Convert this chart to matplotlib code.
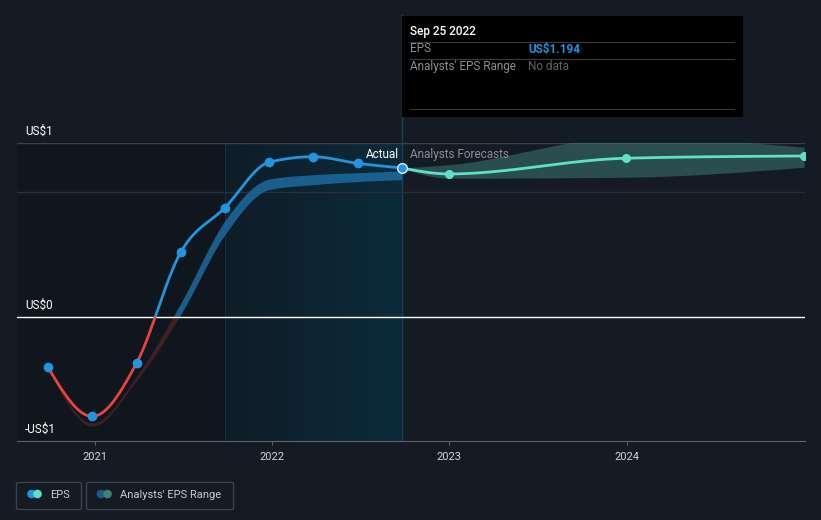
import numpy as np
import matplotlib
matplotlib.use('Agg')
import matplotlib.pyplot as plt
import matplotlib.dates as mdates
from matplotlib.patches import Rectangle, FancyBboxPatch, Circle
from datetime import datetime

plt.rcParams['font.family'] = ['Roboto', 'DejaVu Sans']

# --- data ---
actual_dates = ['2020-09-27', '2020-12-27', '2021-03-28', '2021-06-27', '2021-09-26',
                '2021-12-26', '2022-03-27', '2022-06-26', '2022-09-25']
eps_actual = [-0.405, -0.797, -0.371, 0.518, 0.876, 1.24, 1.284, 1.231, 1.194]

# past analysts' range (shadow band)
past_low = [-0.41, -0.875, -0.51, 0.02, 0.66, 1.02, 1.06, 1.085, 1.10]
past_high = [-0.40, -0.848, -0.475, 0.11, 0.77, 1.105, 1.14, 1.156, 1.17]

fc_dates = ['2022-09-25', '2022-12-31', '2023-12-31', '2024-12-31']
eps_fc = [1.194, 1.146, 1.272, 1.29]
fc_low = [1.194, 1.112, 1.12, 1.20]
fc_high = [1.194, 1.22, 1.44, 1.36]

year_ticks = ['2021-01-01', '2022-01-01', '2023-01-01', '2024-01-01']
year_labels = ['2021', '2022', '2023', '2024']
y_ticks = [-0.994, 0.0, 1.394]
y_labels = ['-US$1', 'US$0', 'US$1']

BG = '#151b24'
BLUE = '#2394df'
RED = '#e8433f'
TEAL = '#5fe0c8'


def to_num(ds):
    return mdates.date2num([datetime.strptime(d, '%Y-%m-%d') for d in ds])


def monotone(x, y, n=300):
    # monotone cubic (like d3 curveMonotoneX) for drawing smooth lines
    x = np.asarray(x, float)
    y = np.asarray(y, float)
    h = np.diff(x)
    s = np.diff(y) / h
    m = np.zeros(len(x))
    for k in range(1, len(x) - 1):
        p = (s[k - 1] * h[k] + s[k] * h[k - 1]) / (h[k - 1] + h[k])
        m[k] = (np.sign(s[k - 1]) + np.sign(s[k])) * min(abs(s[k - 1]), abs(s[k]), 0.5 * abs(p))
    if len(x) > 2:
        m[0] = (3 * s[0] - m[1]) / 2
        m[-1] = (3 * s[-1] - m[-2]) / 2
    else:
        m[0] = m[-1] = s[0]
    xs = np.linspace(x[0], x[-1], n)
    idx = np.clip(np.searchsorted(x, xs) - 1, 0, len(x) - 2)
    t = (xs - x[idx]) / h[idx]
    h00 = 2 * t**3 - 3 * t**2 + 1
    h10 = t**3 - 2 * t**2 + t
    h01 = -2 * t**3 + 3 * t**2
    h11 = t**3 - t**2
    ys = h00 * y[idx] + h10 * h[idx] * m[idx] + h01 * y[idx + 1] + h11 * h[idx] * m[idx + 1]
    return xs, ys


xa = to_num(actual_dates)
xf = to_num(fc_dates)

fig = plt.figure(figsize=(8.21, 5.2), dpi=100, facecolor=BG)

# overlay for decorations in pixel coordinates
ov = fig.add_axes([0, 0, 1, 1], zorder=0)
ov.set_xlim(0, 821)
ov.set_ylim(520, 0)
ov.axis('off')

ax = fig.add_axes([17 / 821, 79 / 520, 788 / 821, 298 / 520], zorder=1)
ax.set_facecolor('none')
x_left = mdates.date2num(datetime(2020, 7, 25))
x_right = mdates.date2num(datetime(2025, 1, 2))
ax.set_xlim(x_left, x_right)
ax.set_ylim(-0.994, 1.394)

# shaded background regions
past_start = xa[4]
ax.axvspan(x_left, past_start, color='#0f141b', alpha=0.7, lw=0, zorder=0)
grad = np.linspace(0, 1, 256).reshape(1, -1)
cmap = matplotlib.colors.LinearSegmentedColormap.from_list('tg', ['#0f1d27', '#0b2b3a'])
ax.imshow(grad, cmap=cmap, aspect='auto', interpolation='bilinear',
          extent=[past_start, xa[-1], -0.994, 1.394], zorder=0.5)
ax.axvline(past_start, color='#17303d', lw=0.8, zorder=0.6)

# grid lines
ax.axhline(1.394, color='#3c424b', lw=1, zorder=1)
ax.axhline(1.0, color='#2a3039', lw=1, zorder=1)
ax.axhline(0.0, color='#ffffff', lw=1, zorder=3)

# clip regions above / below zero
above = Rectangle((x_left, 0), x_right - x_left, 5, transform=ax.transData)
below = Rectangle((x_left, -5), x_right - x_left, 5, transform=ax.transData)

# past analysts' band
bx, bl = monotone(xa, past_low)
_, bh = monotone(xa, past_high)
p1 = ax.fill_between(bx, bl, bh, color='#1d6a9e', alpha=0.85, lw=0, zorder=2)
p1.set_clip_path(above)
p2 = ax.fill_between(bx, bl, bh, color='#4e2127', alpha=0.8, lw=0, zorder=2)
p2.set_clip_path(below)

# forecast band
fx, fl = monotone(xf, fc_low)
_, fh = monotone(xf, fc_high)
ax.fill_between(fx, fl, fh, color='#3f7f7a', alpha=0.5, lw=0, zorder=2)

# actual EPS line, coloured by sign
lx, ly = monotone(xa, eps_actual)
l1, = ax.plot(lx, ly, color=BLUE, lw=2, zorder=4, solid_capstyle='round')
l1.set_clip_path(above)
l2, = ax.plot(lx, ly, color=RED, lw=2, zorder=4, solid_capstyle='round')
l2.set_clip_path(below)
ax.plot(xa[:-1], eps_actual[:-1], 'o', color=BLUE, ms=6, zorder=5)

# forecast line
gx, gy = monotone(xf, eps_fc)
ax.plot(gx, gy, color=TEAL, lw=2, zorder=4)
ax.plot(xf[1:], eps_fc[1:], 'o', color=TEAL, ms=5.5, zorder=5)
ax.plot(xa[-1], eps_actual[-1], 'o', color=BLUE, mec='#d8ecff', mew=1, ms=7, zorder=6)

ax.text(xa[-1] - 6, 1.302, 'Actual', color='white', fontsize=8.5, ha='right', va='center', zorder=6)
ax.text(xa[-1] + 16, 1.302, 'Analysts Forecasts', color='#8a8f96', fontsize=8.5, ha='left', va='center', zorder=6)

# axes styling
for sp in ['top', 'right', 'left']:
    ax.spines[sp].set_visible(False)
ax.spines['bottom'].set_color('#5d636b')
ax.set_xticks(to_num(year_ticks))
ax.set_xticklabels(year_labels)
ax.tick_params(axis='x', colors='#5d636b', labelcolor='#d4d6d9', labelsize=8, length=3, pad=5)
ax.set_yticks([])
for v, lab in zip(y_ticks, y_labels):
    ax.annotate(lab, xy=(0.01, v), xycoords=('axes fraction', 'data'), xytext=(0, 3.5),
                textcoords='offset points', va='bottom', ha='left', color='white',
                fontsize=8.5, annotation_clip=False)

# vertical marker line for the tooltip date
ov.plot([402, 402], [15, 441], color='#1c4455', lw=1, zorder=1)

# tooltip
ov.add_patch(Rectangle((402, 16), 341, 101, facecolor='black', edgecolor='none', zorder=2))
ov.text(410, 31, 'Sep 25 2022', color='white', fontsize=8.5, va='center', fontweight='medium', zorder=3)
ov.plot([410, 734], [41.5, 41.5], color='#3a3a3a', lw=0.8, zorder=3)
ov.text(410, 49, 'EPS', color='#8a8f96', fontsize=8.5, va='center', zorder=3)
ov.text(528, 49, 'US$1.194', color=BLUE, fontsize=8.5, va='center', fontweight='bold', zorder=3)
ov.plot([410, 734], [58.5, 58.5], color='#3a3a3a', lw=0.8, zorder=3)
ov.text(410, 66.5, "Analysts' EPS Range", color='#8a8f96', fontsize=8.5, va='center', zorder=3)
ov.text(528, 66.5, 'No data', color='#5f646b', fontsize=8.5, va='center', zorder=3)
ov.plot([410, 734], [109, 109], color='#3a3a3a', lw=0.8, zorder=3)

# legend
for x0, w in [(16.5, 65), (86.5, 147)]:
    ov.add_patch(FancyBboxPatch((x0, 482.5), w, 27, boxstyle='round,pad=0,rounding_size=2',
                                facecolor=BG, edgecolor='#3d434c', lw=1, zorder=2))
ov.add_patch(Circle((31.5, 494), 3.6, color=BLUE, zorder=3))
ov.add_patch(Circle((37.5, 494), 3.6, color=TEAL, zorder=3))
ov.text(50, 495, 'EPS', color='#c9ccd0', fontsize=8, va='center', zorder=3)
ov.add_patch(Circle((101, 494), 3.6, color='#1d5a86', zorder=3))
ov.add_patch(Circle((107.5, 494), 3.6, color='#3f8079', zorder=3))
ov.text(120, 495, "Analysts' EPS Range", color='#c9ccd0', fontsize=8, va='center', zorder=3)

fig.savefig('out.png', dpi=100, facecolor=BG)
